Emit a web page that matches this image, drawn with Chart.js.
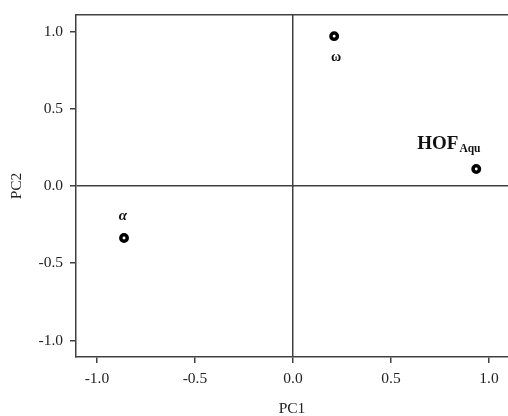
<!DOCTYPE html>
<html>
<head>
<meta charset="utf-8">
<script src="https://cdn.jsdelivr.net/npm/chart.js@4/dist/chart.umd.min.js"></script>
<style>
html,body{margin:0;padding:0;background:#fff;}
canvas{display:block;}
</style>
</head>
<body>
<canvas id="c" width="508" height="416"></canvas>
<script>
// ---- data ----
const names = ["ω", "HOF", "α"];
const pc1 = [0.21, 0.935, -0.862];
const pc2 = [0.97, 0.11, -0.337];
const xTicks = [-1.0, -0.5, 0.0, 0.5, 1.0];
const yTicks = [-1.0, -0.5, 0.0, 0.5, 1.0];
const xTitle = "PC1";
const yTitle = "PC2";
const hofSub = "Aqu";

const points = names.map((n, i) => ({x: pc1[i], y: pc2[i]}));
const axisColor = '#404040';
const serif = '"Liberation Serif", "Times New Roman", serif';

const labelPlugin = {
  id: 'pointLabels',
  afterDatasetsDraw(chart) {
    const ctx = chart.ctx;
    const xs = chart.scales.x, ys = chart.scales.y;
    ctx.save();
    ctx.fillStyle = '#111';
    names.forEach((n, i) => {
      const px = xs.getPixelForValue(pc1[i]);
      const py = ys.getPixelForValue(pc2[i]);
      if (n === 'ω') {
        ctx.font = 'bold 14px ' + serif;
        ctx.textAlign = 'center';
        ctx.textBaseline = 'middle';
        ctx.fillText(n, px + 2, py + 21);
      } else if (n === 'α') {
        ctx.font = 'italic bold 15px ' + serif;
        ctx.textAlign = 'center';
        ctx.textBaseline = 'middle';
        ctx.fillText(n, px - 1, py - 22);
      } else {
        ctx.font = 'bold 19px ' + serif;
        ctx.textAlign = 'left';
        ctx.textBaseline = 'alphabetic';
        const x0 = px - 59, y0 = py - 20;
        ctx.fillText(n, x0, y0);
        const w = ctx.measureText(n).width;
        ctx.font = 'bold 11.5px ' + serif;
        ctx.fillText(hofSub, x0 + w + 1, y0 + 3);
      }
    });
    ctx.restore();
  }
};

new Chart(document.getElementById('c'), {
  type: 'scatter',
  data: {
    datasets: [{
      data: points,
      pointRadius: 3.2,
      pointHoverRadius: 3.2,
      pointBorderWidth: 3.5,
      pointBackgroundColor: '#fff',
      pointBorderColor: '#000'
    }]
  },
  options: {
    responsive: false,
    maintainAspectRatio: false,
    animation: false,
    layout: {autoPadding: false, padding: {left: 0, top: 15, right: 0, bottom: 0}},
    plugins: {legend: {display: false}, tooltip: {enabled: false}},
    scales: {
      x: {
        type: 'linear',
        position: 'bottom',
        min: -1.107,
        max: 1.097,
        afterBuildTicks: s => { s.ticks = xTicks.map(v => ({value: v})); },
        afterFit: s => { s.height = 59; s.paddingLeft = 0; s.paddingRight = 0; },
        grid: {
          color: c => (c.tick && c.tick.value === 0) ? axisColor : 'rgba(0,0,0,0)',
          lineWidth: 1.5,
          tickColor: axisColor,
          tickLength: 6,
          tickWidth: 1.5
        },
        border: {display: true, color: axisColor, width: 1.5},
        ticks: {
          color: '#222',
          font: {family: serif, size: 15.5},
          padding: 7,
          maxRotation: 0,
          callback: v => Number(v).toFixed(1)
        },
        title: {
          display: true,
          text: xTitle,
          color: '#222',
          font: {family: serif, size: 15.5, lineHeight: 0.85},
          padding: {top: 0, bottom: 0}
        }
      },
      x2: {
        type: 'linear',
        position: 'top',
        display: true,
        afterFit: s => { s.height = 0; s.paddingLeft = 0; s.paddingRight = 0; },
        grid: {display: false, drawTicks: false},
        border: {display: true, color: axisColor, width: 1.5},
        ticks: {display: false}
      },
      y: {
        type: 'linear',
        position: 'left',
        min: -1.107,
        max: 1.107,
        afterBuildTicks: s => { s.ticks = yTicks.map(v => ({value: v})); },
        afterFit: s => { s.width = 76; s.paddingTop = 0; s.paddingBottom = 0; },
        grid: {
          color: c => (c.tick && c.tick.value === 0) ? axisColor : 'rgba(0,0,0,0)',
          lineWidth: 1.5,
          tickColor: axisColor,
          tickLength: 6,
          tickWidth: 1.5
        },
        border: {display: true, color: axisColor, width: 1.5},
        ticks: {
          color: '#222',
          font: {family: serif, size: 15.5},
          padding: 7,
          callback: v => Number(v).toFixed(1)
        },
        title: {
          display: true,
          text: yTitle,
          color: '#222',
          font: {family: serif, size: 15.5, lineHeight: 1},
          padding: {top: 9.5, bottom: 0}
        }
      }
    }
  },
  plugins: [labelPlugin]
});
</script>
</body>
</html>
